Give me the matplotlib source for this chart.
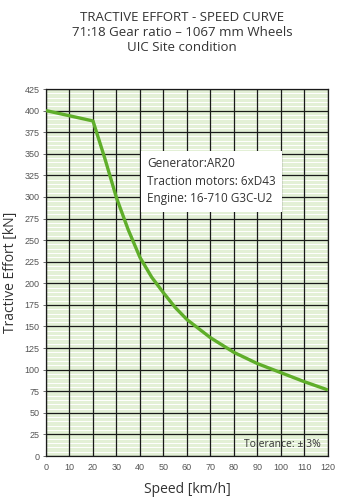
import matplotlib
matplotlib.use('Agg')
from matplotlib import pyplot as plt

# speed [km/h] and tractive effort [kN]
speed = [0, 10, 20, 25, 30, 35, 40, 45, 50, 55, 60, 70, 80, 90, 100, 110, 120]
effort = [400, 394, 388, 345, 299, 262, 230, 207, 189, 172, 158, 137, 120, 107, 96.5, 86, 76.5]

x_ticks = list(range(0, 121, 10))
y_ticks = list(range(0, 426, 25))

title_lines = ['TRACTIVE EFFORT - SPEED CURVE',
               '71:18 Gear ratio \u2013 1067 mm Wheels',
               'UIC Site condition']
info_lines = ['Generator:AR20', 'Traction motors: 6xD43', 'Engine: 16-710 G3C-U2']

text_font = 'Open Sans'
tick_font = 'Liberation Sans'
dark = '#333333'

fig = plt.figure(figsize=(3.37, 5.0), dpi=100)
ax = fig.add_axes([0.1365, 0.088, 0.8365, 0.734])
ax.set_facecolor('#e3f0d6')

# white minor stripes every 5 kN under the black major grid
for v in range(5, 425, 5):
    if v % 25:
        ax.axhline(v, color='white', lw=0.7, zorder=0.2)
ax.set_xticks(x_ticks)
ax.set_yticks(y_ticks)
ax.grid(True, color='#1a1a1a', lw=0.9)
ax.set_axisbelow(True)

ax.plot(speed, effort, color='#5fae2a', lw=2.4, zorder=4, solid_capstyle='butt')

ax.set_xlim(0, 120)
ax.set_ylim(0, 425)
for s in ax.spines.values():
    s.set_color('#1a1a1a')
    s.set_linewidth(0.9)
ax.tick_params(axis='both', labelsize=6.5, labelcolor='#555555', color='#555555',
               length=2.5, width=0.6, pad=2)
for lab in ax.get_xticklabels() + ax.get_yticklabels():
    lab.set_fontfamily(tick_font)
ax.tick_params(axis='x', length=0, pad=5)

ax.set_xlabel('Speed [km/h]', fontsize=10, color=dark, family=text_font, labelpad=7)
ax.set_ylabel('Tractive Effort [kN]', fontsize=10, color=dark, family=text_font, labelpad=5)

fig.text(0.54, 0.935, '\n'.join(title_lines), ha='center', va='center',
         fontsize=9.5, color=dark, family=text_font, linespacing=1.2)

ax.text(43, 346, '\n'.join(info_lines), ha='left', va='top', fontsize=8.5,
        color=dark, family=text_font, linespacing=1.45, zorder=6,
        bbox=dict(boxstyle='square,pad=0.55', fc='white', ec='none'))

ax.text(117, 13, 'Tolerance: \u00b1 3%', ha='right', va='center', fontsize=7.5,
        color=dark, family=text_font, zorder=6)

fig.savefig('out.png', dpi=100)
